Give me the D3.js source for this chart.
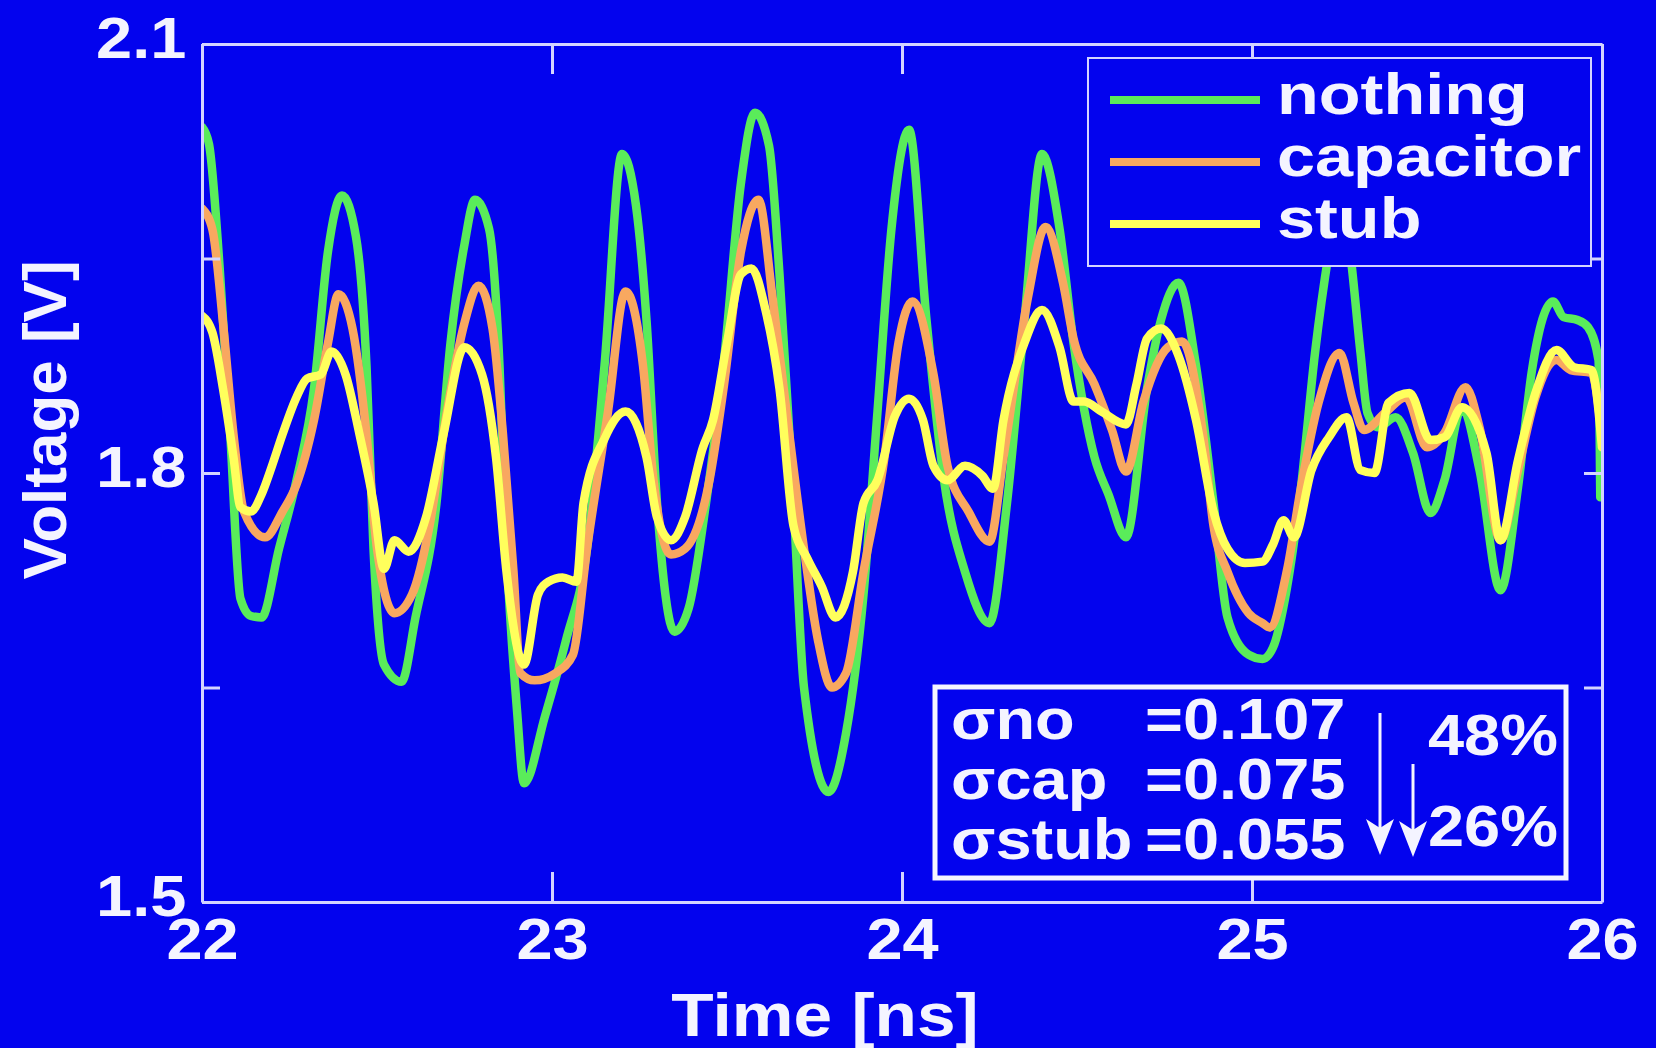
<!DOCTYPE html>
<html>
<head>
<meta charset="utf-8">
<script src="https://cdn.jsdelivr.net/npm/d3@7"></script>
<style>
  html, body { margin: 0; padding: 0; background: #0303ee; }
  svg { display: block; }
  text { font-family: "Liberation Sans", Arial, Helvetica, sans-serif; font-weight: bold; fill: #f4f4ff; }
</style>
</head>
<body>
<svg id="chart"></svg>
<script>
const xTicks = [22, 23, 24, 25, 26];
const yTicks = [1.5, 1.65, 1.8, 1.95, 2.1];
const yLabelled = [1.5, 1.8, 2.1];

const seriesNames = ['nothing', 'capacitor', 'stub'];

// [time ns, voltage V]
const nothingData = [
  [22.00, 2.042], [22.02, 2.030], [22.05, 1.945], [22.08, 1.830], [22.11, 1.712], [22.14, 1.700],
  [22.17, 1.699], [22.22, 1.747], [22.27, 1.795], [22.32, 1.859], [22.36, 1.955], [22.40, 1.994],
  [22.44, 1.965], [22.47, 1.875], [22.49, 1.747], [22.52, 1.666], [22.57, 1.654], [22.61, 1.699],
  [22.67, 1.779], [22.71, 1.891], [22.75, 1.960], [22.78, 1.991], [22.82, 1.971], [22.85, 1.875],
  [22.87, 1.747], [22.90, 1.634], [22.92, 1.583], [22.98, 1.630], [23.04, 1.683], [23.10, 1.747],
  [23.15, 1.875], [23.20, 2.023], [23.24, 1.987], [23.27, 1.907], [23.30, 1.779], [23.35, 1.689],
  [23.39, 1.705], [23.44, 1.779], [23.49, 1.875], [23.54, 2.003], [23.58, 2.052], [23.62, 2.029],
  [23.65, 1.939], [23.69, 1.779], [23.72, 1.650], [23.79, 1.577], [23.84, 1.618], [23.89, 1.715],
  [23.93, 1.843], [23.97, 1.971], [24.02, 2.040], [24.07, 1.907], [24.12, 1.795], [24.18, 1.731],
  [24.25, 1.695], [24.30, 1.779], [24.35, 1.907], [24.40, 2.023], [24.45, 1.971], [24.49, 1.891],
  [24.55, 1.811], [24.59, 1.785], [24.64, 1.755], [24.70, 1.859], [24.74, 1.907], [24.79, 1.933],
  [24.84, 1.875], [24.89, 1.779], [24.93, 1.699], [24.99, 1.673], [25.03, 1.670], [25.06, 1.678],
  [25.10, 1.720], [25.14, 1.790], [25.18, 1.884], [25.22, 1.955], [25.25, 1.995], [25.28, 1.955],
  [25.31, 1.884], [25.33, 1.842], [25.36, 1.832], [25.41, 1.839], [25.46, 1.814], [25.51, 1.772],
  [25.55, 1.795], [25.60, 1.846], [25.65, 1.802], [25.71, 1.718], [25.76, 1.790], [25.80, 1.872],
  [25.86, 1.920], [25.89, 1.909], [25.93, 1.907], [25.96, 1.902], [25.99, 1.879], [25.995, 1.783]
];

const capacitorData = [
  [22.00, 1.985], [22.03, 1.970], [22.06, 1.905], [22.09, 1.827], [22.12, 1.773], [22.18, 1.755],
  [22.23, 1.773], [22.27, 1.792], [22.32, 1.837], [22.36, 1.891], [22.39, 1.925], [22.43, 1.901],
  [22.47, 1.827], [22.50, 1.747], [22.55, 1.702], [22.60, 1.715], [22.65, 1.763], [22.70, 1.843],
  [22.75, 1.905], [22.79, 1.931], [22.83, 1.901], [22.86, 1.827], [22.89, 1.731], [22.91, 1.660],
  [22.95, 1.655], [23.01, 1.660], [23.06, 1.673], [23.10, 1.747], [23.16, 1.843], [23.21, 1.927],
  [23.26, 1.875], [23.29, 1.795], [23.34, 1.743], [23.38, 1.747], [23.45, 1.795], [23.49, 1.859],
  [23.54, 1.955], [23.59, 1.991], [23.63, 1.923], [23.67, 1.843], [23.72, 1.747], [23.76, 1.683],
  [23.80, 1.650], [23.84, 1.660], [23.89, 1.731], [23.95, 1.811], [23.99, 1.891], [24.03, 1.920],
  [24.09, 1.869], [24.13, 1.805], [24.19, 1.773], [24.25, 1.752], [24.29, 1.811], [24.36, 1.923],
  [24.41, 1.972], [24.46, 1.933], [24.49, 1.894], [24.55, 1.862], [24.60, 1.830], [24.64, 1.801],
  [24.69, 1.850], [24.76, 1.888], [24.80, 1.892], [24.86, 1.827], [24.89, 1.763], [24.93, 1.731],
  [24.99, 1.702], [25.03, 1.695], [25.05, 1.692], [25.10, 1.732], [25.14, 1.790], [25.19, 1.849],
  [25.25, 1.884], [25.29, 1.849], [25.32, 1.830], [25.38, 1.842], [25.44, 1.853], [25.50, 1.818],
  [25.55, 1.828], [25.61, 1.860], [25.65, 1.832], [25.71, 1.753], [25.76, 1.802], [25.81, 1.853],
  [25.87, 1.879], [25.91, 1.872], [25.97, 1.870], [26.00, 1.825]
];

const stubData = [
  [22.00, 1.910], [22.03, 1.898], [22.06, 1.859], [22.09, 1.811], [22.11, 1.776], [22.14, 1.773],
  [22.17, 1.785], [22.20, 1.805], [22.23, 1.827], [22.27, 1.853], [22.30, 1.866], [22.34, 1.869],
  [22.37, 1.885], [22.41, 1.869], [22.45, 1.827], [22.49, 1.779], [22.52, 1.733], [22.55, 1.753],
  [22.59, 1.745], [22.64, 1.769], [22.69, 1.827], [22.75, 1.888], [22.80, 1.869], [22.84, 1.811],
  [22.87, 1.731], [22.92, 1.666], [22.96, 1.715], [22.99, 1.724], [23.03, 1.727], [23.07, 1.724],
  [23.09, 1.779], [23.15, 1.824], [23.21, 1.843], [23.27, 1.811], [23.30, 1.769], [23.34, 1.753],
  [23.38, 1.769], [23.43, 1.817], [23.46, 1.837], [23.50, 1.891], [23.54, 1.939], [23.57, 1.943],
  [23.61, 1.914], [23.65, 1.859], [23.69, 1.763], [23.73, 1.740], [23.77, 1.721], [23.81, 1.699],
  [23.86, 1.731], [23.89, 1.779], [23.93, 1.795], [23.98, 1.840], [24.02, 1.852], [24.06, 1.837],
  [24.09, 1.805], [24.13, 1.795], [24.18, 1.805], [24.23, 1.798], [24.26, 1.789], [24.29, 1.837],
  [24.35, 1.891], [24.40, 1.914], [24.45, 1.888], [24.49, 1.850], [24.52, 1.850], [24.57, 1.843],
  [24.64, 1.834], [24.67, 1.862], [24.70, 1.894], [24.74, 1.901], [24.79, 1.882], [24.84, 1.837],
  [24.89, 1.773], [24.93, 1.747], [24.98, 1.737], [25.03, 1.738], [25.06, 1.750], [25.09, 1.767],
  [25.12, 1.755], [25.17, 1.802], [25.22, 1.825], [25.27, 1.839], [25.31, 1.802], [25.35, 1.800],
  [25.39, 1.849], [25.45, 1.856], [25.51, 1.823], [25.55, 1.825], [25.60, 1.846], [25.67, 1.814],
  [25.71, 1.753], [25.76, 1.809], [25.81, 1.856], [25.87, 1.886], [25.92, 1.874], [25.97, 1.872],
  [26.00, 1.818]
];

const sigmaLabels = ['\u03c3no', '\u03c3cap', '\u03c3stub'];
const sigmaValues = ['=0.107', '=0.075', '=0.055'];
const reductions = ['48%', '26%'];

const W = 1656, H = 1048;
const margin = {left: 202, top: 44, right: 54, bottom: 146};
const width = W - margin.left - margin.right;
const height = H - margin.top - margin.bottom;
const colors = ['#5aec5a', '#f8a860', '#ffff5c'];
const axisColor = '#d4d4ff';
const stretch = 1.12;

const svg = d3.select('#chart')
  .attr('width', W)
  .attr('height', H);

svg.append('rect')
  .attr('width', W)
  .attr('height', H)
  .attr('fill', '#0303ee');

const chart = svg.append('g')
  .attr('transform', `translate(${margin.left}, ${margin.top})`);

const xScale = d3.scaleLinear().domain([22, 26]).range([0, width]);
const yScale = d3.scaleLinear().domain([1.5, 2.1]).range([height, 0]);

svg.append('defs').append('clipPath')
  .attr('id', 'plotClip')
  .append('rect')
  .attr('width', width)
  .attr('height', height);

const line = d3.line()
  .x((d) => xScale(d[0]))
  .y((d) => yScale(d[1]))
  .curve(d3.curveMonotoneX);

const lines = chart.append('g').attr('clip-path', 'url(#plotClip)');
[nothingData, capacitorData, stubData].forEach((data, i) => {
  lines.append('path')
    .datum(data)
    .attr('fill', 'none')
    .attr('stroke', colors[i])
    .attr('stroke-width', 8.5)
    .attr('stroke-linejoin', 'round')
    .attr('stroke-linecap', 'round')
    .attr('d', line);
});

// axes: ticks point inwards, labels only bottom and left
const styleAxis = (g) => {
  g.select('.domain').attr('stroke', axisColor).attr('stroke-width', 3);
  g.selectAll('.tick line').attr('stroke', axisColor).attr('stroke-width', 3);
  g.selectAll('.tick text').attr('fill', '#f4f4ff').attr('font-size', 58)
    .attr('font-family', '"Liberation Sans", Arial, sans-serif').attr('font-weight', 'bold');
};

chart.append('g')
  .attr('transform', `translate(0, ${height})`)
  .call(d3.axisBottom(xScale).tickValues(xTicks).tickSizeInner(-30).tickSizeOuter(0)
    .tickPadding(16).tickFormat(d3.format('d')))
  .call(styleAxis)
  .selectAll('.tick text')
  .attr('transform', `scale(${stretch},1)`);

chart.append('g')
  .call(d3.axisTop(xScale).tickValues(xTicks).tickSizeInner(-30).tickSizeOuter(0).tickFormat(''))
  .call(styleAxis);

chart.append('g')
  .call(d3.axisLeft(yScale).tickValues(yTicks).tickSizeInner(-18).tickSizeOuter(0).tickPadding(14)
    .tickFormat((d) => yLabelled.includes(d) ? d.toFixed(1) : ''))
  .call(styleAxis)
  .selectAll('.tick text')
  .attr('dy', '0.24em')
  .attr('transform', `scale(${stretch},1)`);

chart.append('g')
  .attr('transform', `translate(${width}, 0)`)
  .call(d3.axisRight(yScale).tickValues(yTicks).tickSizeInner(-18).tickSizeOuter(0).tickFormat(''))
  .call(styleAxis);

// axis titles
svg.append('text')
  .attr('transform', `translate(825, 1036) scale(${stretch},1)`)
  .attr('text-anchor', 'middle')
  .attr('font-size', 62)
  .text('Time [ns]');

svg.append('text')
  .attr('transform', 'translate(66, 420) rotate(-90)')
  .attr('text-anchor', 'middle')
  .attr('font-size', 62)
  .text('Voltage [V]');

// legend
const legend = svg.append('g');
legend.append('rect')
  .attr('x', 1088).attr('y', 58)
  .attr('width', 503).attr('height', 208)
  .attr('fill', '#0303ee')
  .attr('stroke', axisColor)
  .attr('stroke-width', 2);

seriesNames.forEach((name, i) => {
  const yy = 100 + i * 62;
  legend.append('line')
    .attr('x1', 1110).attr('x2', 1260)
    .attr('y1', yy).attr('y2', yy)
    .attr('stroke', colors[i])
    .attr('stroke-width', 8);
  legend.append('text')
    .attr('transform', `translate(1277, ${yy + 14}) scale(1.18,1)`)
    .attr('font-size', 58)
    .text(name);
});

// sigma box
const note = svg.append('g');
note.append('rect')
  .attr('x', 935).attr('y', 687)
  .attr('width', 631).attr('height', 191)
  .attr('fill', '#0303ee')
  .attr('stroke', '#f4f4ff')
  .attr('stroke-width', 5);

sigmaLabels.forEach((lab, i) => {
  const yy = 739 + i * 60;
  note.append('text')
    .attr('transform', `translate(951, ${yy}) scale(${stretch},1)`)
    .attr('font-size', 58)
    .text(lab);
  note.append('text')
    .attr('transform', `translate(1145, ${yy}) scale(${stretch},1)`)
    .attr('font-size', 58)
    .text(sigmaValues[i]);
});

reductions.forEach((r, i) => {
  note.append('text')
    .attr('transform', `translate(1428, ${755 + i * 91}) scale(${stretch},1)`)
    .attr('font-size', 58)
    .text(r);
});

const arrows = [[1380, 713, 855], [1413, 764, 857]];
arrows.forEach(([ax, y1, y2]) => {
  note.append('line')
    .attr('x1', ax).attr('x2', ax)
    .attr('y1', y1).attr('y2', y2 - 24)
    .attr('stroke', '#f4f4ff')
    .attr('stroke-width', 3);
  note.append('path')
    .attr('d', `M${ax},${y2} L${ax - 14},${y2 - 36} L${ax},${y2 - 27} L${ax + 14},${y2 - 36} Z`)
    .attr('fill', '#f4f4ff');
});
</script>
</body>
</html>
